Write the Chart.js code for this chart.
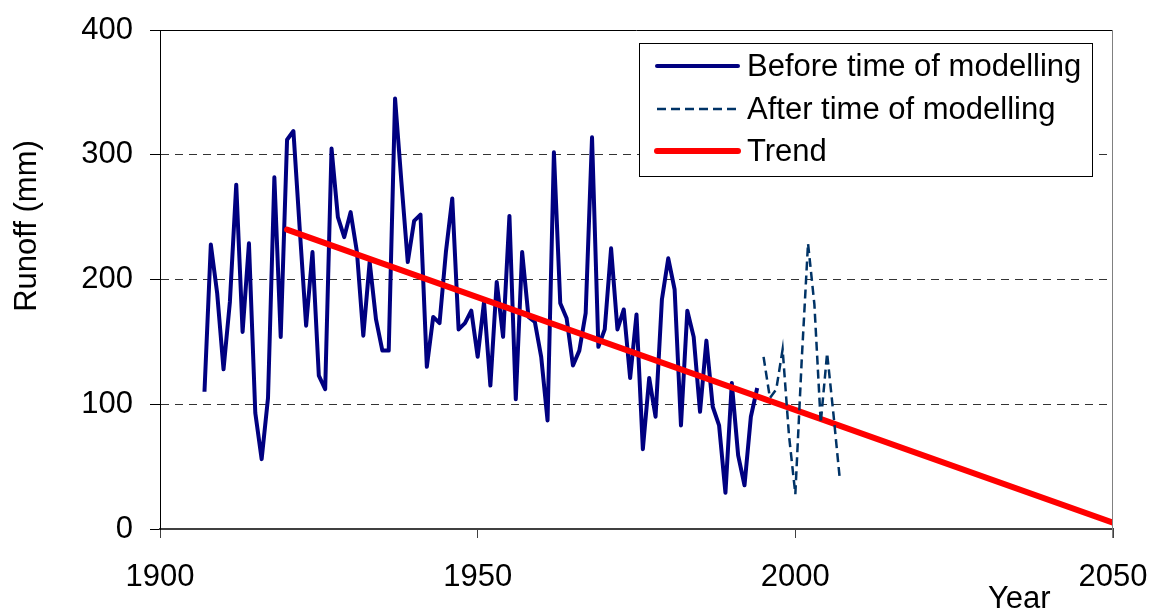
<!DOCTYPE html>
<html>
<head>
<meta charset="utf-8">
<script src="https://cdn.jsdelivr.net/npm/chart.js@4"></script>
<style>
html,body{margin:0;padding:0;background:#fff;}
#wrap{width:1151px;height:613px;position:relative;}
</style>
</head>
<body>
<div id="wrap"><canvas id="c"></canvas></div>
<script>
const beforeYears = [1907,1908,1909,1910,1911,1912,1913,1914,1915,1916,1917,1918,1919,1920,1921,1922,1923,1924,1925,1926,1927,1928,1929,1930,1931,1932,1933,1934,1935,1936,1937,1938,1939,1940,1941,1942,1943,1944,1945,1946,1947,1948,1949,1950,1951,1952,1953,1954,1955,1956,1957,1958,1959,1960,1961,1962,1963,1964,1965,1966,1967,1968,1969,1970,1971,1972,1973,1974,1975,1976,1977,1978,1979,1980,1981,1982,1983,1984,1985,1986,1987,1988,1989,1990,1991,1992,1993,1994];
const beforeRunoff = [110,228,189,128,182,276,158,229,93,56,105,282,154,312,319,240,163,222,123,112,305,250,234,254,222,155,214,168,143,143,345,278,214,247,252,130,170,165,222,265,160,165,175,138,182,115,198,154,251,104,222,170,166,138,87,302,181,169,131,143,173,314,146,160,225,160,176,121,172,64,121,90,184,217,192,83,175,154,94,151,98,83,29,117,59,35,90,113];
const afterYears = [1995,1996,1997,1998,1999,2000,2001,2002,2003,2004,2005,2006,2007];
const afterRunoff = [138,105,112,144,75,28,135,229,180,85,141,92,40];
const trendYears = [1920,2050];
const trendRunoff = [240,5];
const xTicks = [1900,1950,2000,2050];
const yTicks = [0,100,200,300,400];
const seriesLabels = ['Before time of modelling','After time of modelling','Trend'];

const FONT = "'Liberation Sans', Arial, sans-serif";
const toPts = (xs, ys) => xs.map((x, i) => ({x: x, y: ys[i]}));

const decorPlugin = {
  id: 'decor',
  afterDraw(chart) {
    const ctx = chart.ctx, a = chart.chartArea;
    ctx.save();
    ctx.lineWidth = 1;
    ctx.strokeStyle = '#000';
    ctx.beginPath(); ctx.moveTo(a.left, a.top + 0.5); ctx.lineTo(a.right, a.top + 0.5); ctx.stroke();
    ctx.strokeStyle = '#808080';
    ctx.beginPath(); ctx.moveTo(a.right - 0.5, a.top); ctx.lineTo(a.right - 0.5, a.bottom + 9); ctx.stroke();

    const bx = 639.5, by = 43.5, bw = 453, bh = 133;
    ctx.fillStyle = '#fff';
    ctx.fillRect(bx, by, bw, bh);
    ctx.strokeStyle = '#000';
    ctx.lineWidth = 1;
    ctx.strokeRect(bx, by, bw, bh);
    const rows = [66, 109, 151];
    chart.data.datasets.forEach((ds, i) => {
      const y = rows[i];
      ctx.save();
      ctx.strokeStyle = ds.borderColor;
      ctx.lineWidth = ds.borderWidth;
      ctx.setLineDash(ds.borderDash || []);
      ctx.lineCap = ds.borderDash ? 'butt' : 'round';
      ctx.beginPath(); ctx.moveTo(657, y); ctx.lineTo(738, y); ctx.stroke();
      ctx.restore();
      ctx.fillStyle = '#000';
      ctx.font = '31px ' + FONT;
      ctx.textAlign = 'left';
      ctx.textBaseline = 'middle';
      ctx.fillText(ds.label, 747, y + 1);
    });

    ctx.fillStyle = '#000';
    ctx.font = '31px ' + FONT;
    ctx.textAlign = 'left';
    ctx.textBaseline = 'alphabetic';
    ctx.fillText('Year', 988, 608);
    ctx.save();
    ctx.translate(36, 226);
    ctx.rotate(-Math.PI / 2);
    ctx.textAlign = 'center';
    ctx.fillText('Runoff (mm)', 0, 0);
    ctx.restore();
    ctx.restore();
  }
};

function noPad(s) { s.paddingLeft = 0; s.paddingRight = 0; s.paddingTop = 0; s.paddingBottom = 0; }

new Chart(document.getElementById('c'), {
  type: 'line',
  data: {
    datasets: [
      {label: seriesLabels[0], data: toPts(beforeYears, beforeRunoff), borderColor: '#000080', borderWidth: 4, pointRadius: 0, tension: 0, order: 2, borderJoinStyle: 'round'},
      {label: seriesLabels[1], data: toPts(afterYears, afterRunoff), borderColor: '#003366', borderWidth: 2.5, borderDash: [9, 5], pointRadius: 0, tension: 0, order: 0},
      {label: seriesLabels[2], data: toPts(trendYears, trendRunoff), borderColor: '#ff0000', borderWidth: 6, pointRadius: 0, tension: 0, order: 1, borderCapStyle: 'round'}
    ]
  },
  options: {
    responsive: true,
    maintainAspectRatio: false,
    animation: false,
    devicePixelRatio: 1,
    layout: {padding: {top: 30, right: 38, left: 0, bottom: 0}},
    plugins: {legend: {display: false}, tooltip: {enabled: false}},
    scales: {
      x: {
        type: 'linear', min: 1900, max: 2050,
        afterBuildTicks(s) { s.ticks = xTicks.map(v => ({value: v})); },
        afterFit(s) { s.height = 84; noPad(s); },
        ticks: {font: {size: 31, family: FONT}, color: '#000', padding: 21, maxRotation: 0, callback: v => String(v)},
        grid: {drawOnChartArea: false, drawTicks: true, tickLength: 9, tickColor: '#404040', tickWidth: 1},
        border: {color: '#404040', width: 2}
      },
      y: {
        min: 0, max: 400,
        afterBuildTicks(s) { s.ticks = yTicks.map(v => ({value: v})); },
        afterFit(s) { s.width = 160; noPad(s); },
        ticks: {font: {size: 31, family: FONT}, color: '#000', padding: 17, callback: v => String(v)},
        grid: {color: '#333', lineWidth: 1, drawTicks: true, tickLength: 10, tickColor: '#000', tickWidth: 1, tickBorderDash: []},
        border: {color: '#000', width: 1, dash: [8, 6]}
      }
    }
  },
  plugins: [decorPlugin]
});
</script>
</body>
</html>
